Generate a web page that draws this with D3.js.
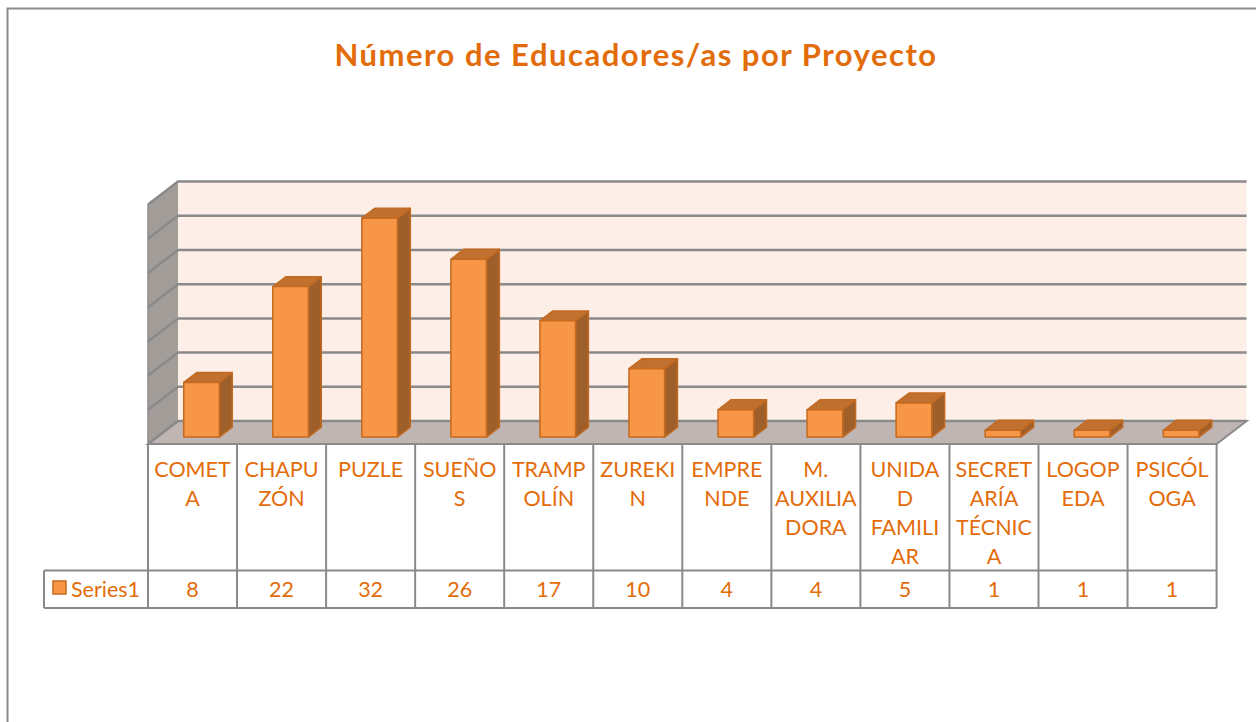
<!DOCTYPE html>
<html>
<head>
<meta charset="utf-8">
<script src="https://cdn.jsdelivr.net/npm/d3@7"></script>
<style>
  body { margin: 0; background: #fff; }
  svg { display: block; }
  text { font-family: Lato, "Open Sans", sans-serif; fill: #E36C0A; }
</style>
</head>
<body>
<div id="chart"></div>
<script>
// data
const categories = ["COMETA", "CHAPUZÓN", "PUZLE", "SUEÑOS", "TRAMPOLÍN", "ZUREKIN", "EMPRENDE", "M. AUXILIADORA", "UNIDAD FAMILIAR", "SECRETARÍA TÉCNICA", "LOGOPEDA", "PSICÓLOGA"];
const labelLines = [["COMET", "A"], ["CHAPU", "ZÓN"], ["PUZLE"], ["SUEÑO", "S"], ["TRAMP", "OLÍN"], ["ZUREKI", "N"], ["EMPRE", "NDE"], ["M.", "AUXILIA", "DORA"], ["UNIDA", "D", "FAMILI", "AR"], ["SECRET", "ARÍA", "TÉCNIC", "A"], ["LOGOP", "EDA"], ["PSICÓL", "OGA"]];
const seriesName = "Series1";
const values = [8, 22, 32, 26, 17, 10, 4, 4, 5, 1, 1, 1];
const yTicks = [0, 5, 10, 15, 20, 25, 30, 35];
const title = "Número de Educadores/as por Proyecto";

const W = 1256, H = 722;
const svg = d3.select("#chart").append("svg").attr("width", W).attr("height", H);

// outer chart border (runs off the page on the right and bottom)
svg.append("rect").attr("x", 7.5).attr("y", 8.5).attr("width", 1300).attr("height", 800)
  .attr("fill", "#fff").attr("stroke", "#8a8a8a").attr("stroke-width", 2);

svg.append("text").attr("x", 636).attr("y", 66).attr("text-anchor", "middle")
  .style("font-size", "31px").style("font-weight", "bold").style("letter-spacing", "1.5px").text(title);

// plot geometry
const left = 148, right = 1216.6, floorY = 444;
const depthX = 30, depthY = 23;
const x = d3.scaleBand().domain(categories).range([left, right]);
const h = d3.scaleLinear().domain([0, 35]).range([0, 239.4]);
const proj = (px, v, z) => [px + depthX * z, floorY - depthY * z - h(v)];
const pts = arr => arr.map(p => p.join(",")).join(" ");
const grid = "#8a8a8a";

// back wall
const bw0 = proj(left, 35, 1), bw1 = proj(right, 0, 1);
svg.append("rect").attr("x", bw0[0]).attr("y", bw0[1]).attr("width", bw1[0] - bw0[0]).attr("height", bw1[1] - bw0[1])
  .attr("fill", "#FDEFE8");
// side wall
svg.append("polygon").attr("points", pts([proj(left, 0, 0), proj(left, 0, 1), proj(left, 35, 1), proj(left, 35, 0)]))
  .attr("fill", "#A39D9A");
// floor
svg.append("polygon").attr("points", pts([proj(left, 0, 0), proj(right, 0, 0), proj(right, 0, 1), proj(left, 0, 1)]))
  .attr("fill", "#BFB5B2").attr("stroke", grid).attr("stroke-width", 2);

// gridlines
const gl = svg.append("g").attr("stroke", grid).attr("stroke-width", 2.5).attr("fill", "none");
yTicks.forEach(t => {
  const a = proj(left, t, 0), b = proj(left, t, 1), c = proj(right, t, 1);
  gl.append("polyline").attr("points", pts([a, b, c]));
});
gl.append("line").attr("x1", left).attr("x2", left).attr("y1", proj(left, 0, 0)[1]).attr("y2", proj(left, 35, 0)[1]).attr("stroke-width", 1.5);

// bars
const bw = x.bandwidth() * 0.4, z0 = 0.3, z1 = 0.73;
const bars = svg.append("g").selectAll("g").data(values).join("g")
  .attr("stroke", "#C46A21").attr("stroke-width", 1.5).attr("stroke-linejoin", "round");
bars.each(function(v, i) {
  const g = d3.select(this);
  const cx = x(categories[i]) + x.bandwidth() / 2;
  const xl = cx - bw / 2, xr = cx + bw / 2;
  // side
  g.append("polygon").attr("points", pts([proj(xr, 0, z0), proj(xr, 0, z1), proj(xr, v, z1), proj(xr, v, z0)]))
    .attr("fill", "#9E5F2A");
  // top
  g.append("polygon").attr("points", pts([proj(xl, v, z0), proj(xr, v, z0), proj(xr, v, z1), proj(xl, v, z1)]))
    .attr("fill", "#C0702F");
  // front
  const f0 = proj(xl, v, z0), f1 = proj(xr, 0, z0);
  g.append("rect").attr("x", f0[0]).attr("y", f0[1]).attr("width", f1[0] - f0[0]).attr("height", f1[1] - f0[1])
    .attr("fill", "#F79646");
});

// data table
const rowTop = floorY, rowMid = 570.5, rowBot = 608, legLeft = 44;
const tb = svg.append("g").attr("stroke", grid).attr("stroke-width", 2).attr("fill", "none");
tb.append("line").attr("x1", left).attr("x2", right).attr("y1", rowTop).attr("y2", rowTop);
tb.append("line").attr("x1", legLeft).attr("x2", right).attr("y1", rowMid).attr("y2", rowMid);
tb.append("line").attr("x1", legLeft).attr("x2", right).attr("y1", rowBot).attr("y2", rowBot);
tb.append("line").attr("x1", legLeft).attr("x2", legLeft).attr("y1", rowMid).attr("y2", rowBot);
categories.concat([null]).forEach((c, i) => {
  const xx = c ? x(c) : right;
  tb.append("line").attr("x1", xx).attr("x2", xx).attr("y1", rowTop).attr("y2", rowBot);
});

categories.forEach((c, i) => {
  const cx = x(c) + x.bandwidth() / 2;
  const t = svg.append("text").attr("text-anchor", "middle").style("font-size", "21.5px");
  labelLines[i].forEach((ln, k) => {
    t.append("tspan").attr("x", cx).attr("y", 476.5 + k * 29.3).text(ln);
  });
  svg.append("text").attr("x", cx).attr("y", 597).attr("text-anchor", "middle")
    .style("font-size", "21.5px").text(values[i]);
});

// legend key
svg.append("rect").attr("x", 53).attr("y", 581).attr("width", 13).attr("height", 13)
  .attr("fill", "#F79646").attr("stroke", "#C46A21").attr("stroke-width", 1.5);
svg.append("text").attr("x", 71).attr("y", 597).style("font-size", "21.5px").text(seriesName);
</script>
</body>
</html>
